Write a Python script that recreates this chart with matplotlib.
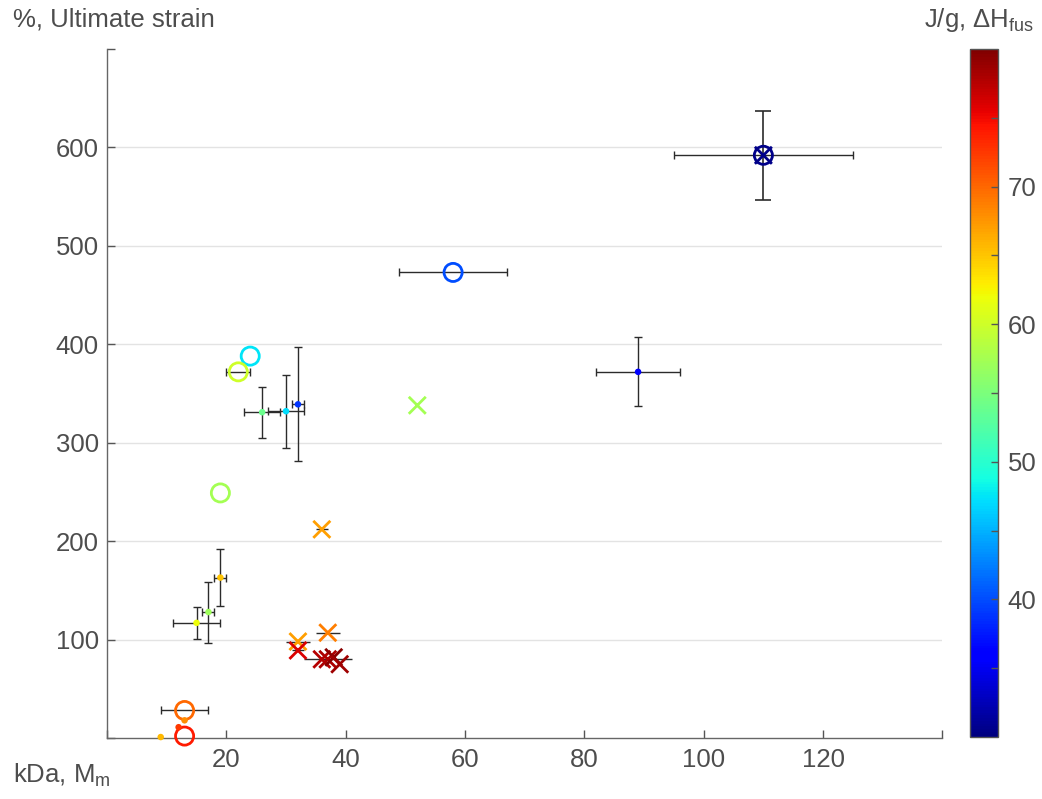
import numpy as np
import matplotlib
matplotlib.use('Agg')
import matplotlib.pyplot as plt
from matplotlib.colors import Normalize

plt.rcParams['font.family'] = ['Liberation Sans', 'DejaVu Sans']
plt.rcParams['mathtext.fontset'] = 'custom'
plt.rcParams['mathtext.rm'] = 'Liberation Sans'

# open circles
circ_m = [110, 58, 24, 22, 19, 13, 13]
circ_e = [592, 473, 388, 372, 249, 28, 2]
circ_h = [30.5, 40, 47.5, 60, 57.5, 70, 74]
circ_xerr = [15, 9, 0, 2, 0, 4, 0]
circ_yerr = [45, 0, 0, 0, 0, 0, 0]

# filled dots
dot_m = [89, 32, 30, 26, 19, 17, 15, 13, 12, 9]
dot_e = [372, 339, 332, 331, 163, 128, 117, 18, 11, 1]
dot_h = [36, 38.8, 47, 54, 65, 57, 62, 68, 72.5, 65.6]
dot_xerr = [7, 1, 3, 3, 1, 1, 4, 0, 0, 0]
dot_yerr = [35, 58, 37, 26, 29, 31, 16, 0, 0, 0]

# crosses
cross_m = [110, 52, 36, 32, 37, 32, 36, 37, 38, 39]
cross_e = [592, 338, 212, 98, 107, 89, 80, 80, 82, 75]
cross_h = [30.5, 57.5, 67, 67, 68.7, 76, 77.5, 78, 79.5, 78.5]
cross_xerr = [0, 0, 1, 2, 2, 1, 0, 4, 0, 0]

txt = '#4d4d4d'
ecol = '#2b2b2b'
fs = 18.5
cmap = plt.get_cmap('jet')
norm = Normalize(vmin=30, vmax=80)

fig = plt.figure(figsize=(10.42, 7.99), dpi=100)
ax = fig.add_axes([0.1027, 0.0763, 0.8017, 0.8624])
cax = fig.add_axes([0.9309, 0.0776, 0.0269, 0.8611])


def bars(x, y, xerr=None, yerr=None, capsize=3, lw=1.0):
    # draw only the bars that have a non-zero half width
    x = np.asarray(x, float)
    y = np.asarray(y, float)
    if xerr is not None:
        xerr = np.asarray(xerr, float)
        k = xerr > 0
        ax.errorbar(x[k], y[k], xerr=xerr[k], fmt='none', ecolor=ecol,
                    elinewidth=lw, capsize=capsize, capthick=lw, zorder=2)
    if yerr is not None:
        yerr = np.asarray(yerr, float)
        k = yerr > 0
        ax.errorbar(x[k], y[k], yerr=yerr[k], fmt='none', ecolor=ecol,
                    elinewidth=lw, capsize=capsize, capthick=lw, zorder=2)


bars(circ_m, circ_e, yerr=circ_yerr, capsize=6, lw=1.2)
bars(circ_m, circ_e, xerr=circ_xerr)
bars(dot_m, dot_e, xerr=dot_xerr, yerr=dot_yerr)
bars(cross_m, cross_e, xerr=cross_xerr, capsize=0)

# markers coloured by heat of fusion
ax.scatter(circ_m, circ_e, s=170, facecolors='none',
           edgecolors=cmap(norm(np.array(circ_h))), linewidths=2,
           zorder=3, clip_on=False)
ax.scatter(dot_m, dot_e, s=22, c=dot_h, cmap=cmap, norm=norm,
           edgecolors='none', zorder=4, clip_on=False)
ax.scatter(cross_m, cross_e, s=150, marker='x', c=cross_h, cmap=cmap,
           norm=norm, linewidths=2, zorder=3, clip_on=False)

ax.set_xlim(0, 140)
ax.set_ylim(0, 700)
ax.set_xticks(range(0, 141, 20))
ax.set_xticklabels([''] + [str(v) for v in range(20, 121, 20)] + [''])
ax.set_yticks(range(0, 701, 100))
ax.set_yticklabels([''] + [str(v) for v in range(100, 601, 100)] + [''])
for yv in range(100, 601, 100):
    ax.axhline(yv, color='#e3e3e3', linewidth=1, zorder=0)
for s in ['top', 'right']:
    ax.spines[s].set_visible(False)
for s in ['left', 'bottom']:
    ax.spines[s].set_color('#666666')
    ax.spines[s].set_linewidth(1.0)
ax.tick_params(direction='in', length=6, width=1, color='#555555',
               labelcolor=txt, labelsize=fs)
ax.tick_params(axis='x', pad=7)
ax.tick_params(axis='y', pad=6)

# colorbar
sm = plt.cm.ScalarMappable(norm=norm, cmap=cmap)
cb = fig.colorbar(sm, cax=cax)
cb.set_ticks(range(35, 80, 5))
cb.set_ticklabels(['' if v % 10 else str(v) for v in range(35, 80, 5)])
cb.outline.set_edgecolor('#555555')
cb.outline.set_linewidth(1.0)
cax.tick_params(direction='in', length=5, width=1, color='#555555',
                labelcolor=txt, labelsize=fs, pad=7)

fig.text(0.012, 0.975, '%, Ultimate strain', color=txt, fontsize=fs,
         ha='left', va='center')
fig.text(0.012, 0.03, r'kDa, M$_\mathregular{m}$', color=txt, fontsize=fs,
         ha='left', va='center')
fig.text(0.992, 0.975, r'J/g, $\Delta$H$_\mathregular{fus}$', color=txt,
         fontsize=fs, ha='right', va='center')

fig.savefig('out.png', dpi=100)
